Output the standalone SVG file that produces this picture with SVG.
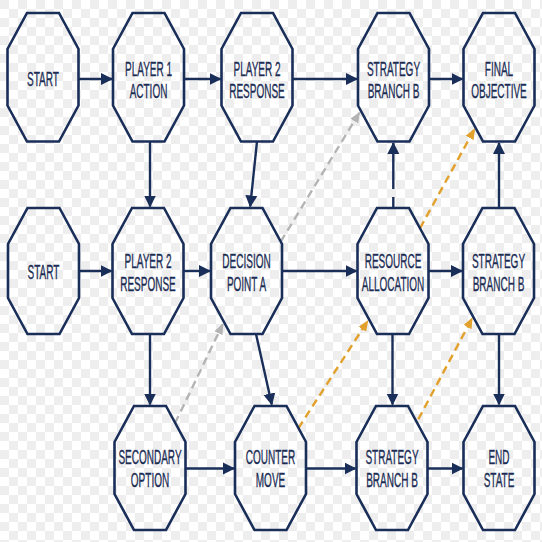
<svg xmlns="http://www.w3.org/2000/svg" width="542" height="542" viewBox="0 0 542 542">
<defs>
<pattern id="checker" width="18" height="18" patternUnits="userSpaceOnUse">
<rect width="18" height="18" fill="#ffffff"/>
<rect width="9" height="9" fill="#eeeeee"/>
<rect x="9" y="9" width="9" height="9" fill="#eeeeee"/>
</pattern>
<marker id="ah" markerUnits="userSpaceOnUse" markerWidth="12" markerHeight="13" refX="11" refY="6.5" orient="auto">
<path d="M0,0.5 L12,6.5 L0,12.5 Z" fill="#1a2e5a"/>
</marker>
<marker id="ahg" markerUnits="userSpaceOnUse" markerWidth="11" markerHeight="10" refX="10" refY="5" orient="auto">
<path d="M0,0.5 L11,5 L0,9.5 Z" fill="#b4b4b4"/>
</marker>
<marker id="aho" markerUnits="userSpaceOnUse" markerWidth="11" markerHeight="10" refX="10" refY="5" orient="auto">
<path d="M0,0.5 L11,5 L0,9.5 Z" fill="#e2a12c"/>
</marker>
<style>
.oct{fill:none;stroke:#1a2e5a;stroke-width:2.6;stroke-linejoin:miter}
.t{font-family:"Liberation Sans",Arial,sans-serif;font-size:20px;fill:#1b2d55;stroke:#1b2d55;stroke-width:0.35;text-anchor:middle}
.c{fill:none;stroke:#1a2e5a;stroke-width:2.4;marker-end:url(#ah)}
.dg{fill:none;stroke:#b4b4b4;stroke-width:2.4;stroke-dasharray:8 5;marker-end:url(#ahg)}
.do{fill:none;stroke:#e2a12c;stroke-width:2.4;stroke-dasharray:8 5;marker-end:url(#aho)}
</style>
</defs>
<rect width="542" height="542" fill="url(#checker)"/>

<g id="connectors">
<path class="c" d="M78.5,79 H112"/>
<path class="c" d="M184,79 H220.5"/>
<path class="c" d="M292.5,79 H357"/>
<path class="c" d="M429,79 H462.5"/>
<path class="c" d="M79,271 H111.5"/>
<path class="c" d="M183.5,271 H210"/>
<path class="c" d="M282,271 H356.5"/>
<path class="c" d="M428.5,271 H462"/>
<path class="c" d="M185.5,468.5 H234"/>
<path class="c" d="M306,468.5 H355.5"/>
<path class="c" d="M427.5,468.5 H462.5"/>
<path class="c" d="M150,141.5 V206.5"/>
<path class="c" d="M257,141.5 L250.2,206.5"/>
<path fill="none" stroke="#1a2e5a" stroke-width="2.4" d="M393.3,207 V197"/>
<path class="c" d="M393.3,189 V143"/>
<path class="c" d="M499,208 V143"/>
<path class="c" d="M150,334 V404.5"/>
<path class="c" d="M256,334 L271.8,404.5"/>
<path class="c" d="M392.5,334 V404.5"/>
<path class="c" d="M499,334 V404.5"/>
<path class="dg" d="M280.7,241.7 L359.5,112.5"/>
<path class="dg" d="M175,423.3 L222.8,324.2"/>
<path class="do" d="M420,228.3 L474.5,129.2"/>
<path class="do" d="M298.3,428.3 L367.8,320.8"/>
<path class="do" d="M418.3,419.3 L472.2,318.2"/>
</g>

<g id="start-1"><polygon class="oct" points="27,13 59,13 78.5,49 78.5,105.5 59,141.5 27,141.5 7.5,105.5 7.5,49"/>
<text class="t" transform="translate(43 86) scale(0.5 1)">START</text></g>
<g id="player1-action"><polygon class="oct" points="132.5,13 164.5,13 184,49 184,105.5 164.5,141.5 132.5,141.5 113,105.5 113,49"/>
<text class="t" transform="translate(148.5 76) scale(0.5 1)">PLAYER 1</text>
<text class="t" transform="translate(148.5 98) scale(0.5 1)">ACTION</text></g>
<g id="player2-response-1"><polygon class="oct" points="241,13 273,13 292.5,49 292.5,105.5 273,141.5 241,141.5 221.5,105.5 221.5,49"/>
<text class="t" transform="translate(257 76) scale(0.5 1)">PLAYER 2</text>
<text class="t" transform="translate(257 98) scale(0.5 1)">RESPONSE</text></g>
<g id="strategy-b-1"><polygon class="oct" points="377.5,13 409.5,13 429,49 429,105.5 409.5,141.5 377.5,141.5 358,105.5 358,49"/>
<text class="t" transform="translate(393.5 76) scale(0.5 1)">STRATEGY</text>
<text class="t" transform="translate(393.5 98) scale(0.5 1)">BRANCH B</text></g>
<g id="final-objective"><polygon class="oct" points="483,13 515,13 534.5,49 534.5,105.5 515,141.5 483,141.5 463.5,105.5 463.5,49"/>
<text class="t" transform="translate(499 76) scale(0.5 1)">FINAL</text>
<text class="t" transform="translate(499 98) scale(0.5 1)">OBJECTIVE</text></g>

<g id="start-2"><polygon class="oct" points="27.5,208 59.5,208 79,244 79,298 59.5,334 27.5,334 8,298 8,244"/>
<text class="t" transform="translate(43.5 279) scale(0.5 1)">START</text></g>
<g id="player2-response-2"><polygon class="oct" points="132,208 164,208 183.5,244 183.5,298 164,334 132,334 112.5,298 112.5,244"/>
<text class="t" transform="translate(148 268) scale(0.5 1)">PLAYER 2</text>
<text class="t" transform="translate(148 290.5) scale(0.5 1)">RESPONSE</text></g>
<g id="decision-point-a"><polygon class="oct" points="230.5,208 262.5,208 282,244 282,298 262.5,334 230.5,334 211,298 211,244"/>
<text class="t" transform="translate(246.5 268) scale(0.5 1)">DECISION</text>
<text class="t" transform="translate(246.5 290.5) scale(0.5 1)">POINT A</text></g>
<g id="resource-allocation"><polygon class="oct" points="377,208 409,208 428.5,244 428.5,298 409,334 377,334 357.5,298 357.5,244"/>
<text class="t" transform="translate(393 268) scale(0.5 1)">RESOURCE</text>
<text class="t" transform="translate(393 290.5) scale(0.5 1)">ALLOCATION</text></g>
<g id="strategy-b-2"><polygon class="oct" points="482.5,208 514.5,208 534,244 534,298 514.5,334 482.5,334 463,298 463,244"/>
<text class="t" transform="translate(498.5 268) scale(0.5 1)">STRATEGY</text>
<text class="t" transform="translate(498.5 290.5) scale(0.5 1)">BRANCH B</text></g>

<g id="secondary-option"><polygon class="oct" points="134,406 166,406 185.5,442 185.5,494 166,530 134,530 114.5,494 114.5,442"/>
<text class="t" transform="translate(150 464) scale(0.5 1)">SECONDARY</text>
<text class="t" transform="translate(150 486.5) scale(0.5 1)">OPTION</text></g>
<g id="counter-move"><polygon class="oct" points="254.5,406 286.5,406 306,442 306,494 286.5,530 254.5,530 235,494 235,442"/>
<text class="t" transform="translate(270.5 464) scale(0.5 1)">COUNTER</text>
<text class="t" transform="translate(270.5 486.5) scale(0.5 1)">MOVE</text></g>
<g id="strategy-b-3"><polygon class="oct" points="376,406 408,406 427.5,442 427.5,494 408,530 376,530 356.5,494 356.5,442"/>
<text class="t" transform="translate(392 464) scale(0.5 1)">STRATEGY</text>
<text class="t" transform="translate(392 486.5) scale(0.5 1)">BRANCH B</text></g>
<g id="end-state"><polygon class="oct" points="483,406 515,406 534.5,442 534.5,494 515,530 483,530 463.5,494 463.5,442"/>
<text class="t" transform="translate(499 464) scale(0.5 1)">END</text>
<text class="t" transform="translate(499 486.5) scale(0.5 1)">STATE</text></g>
</svg>
